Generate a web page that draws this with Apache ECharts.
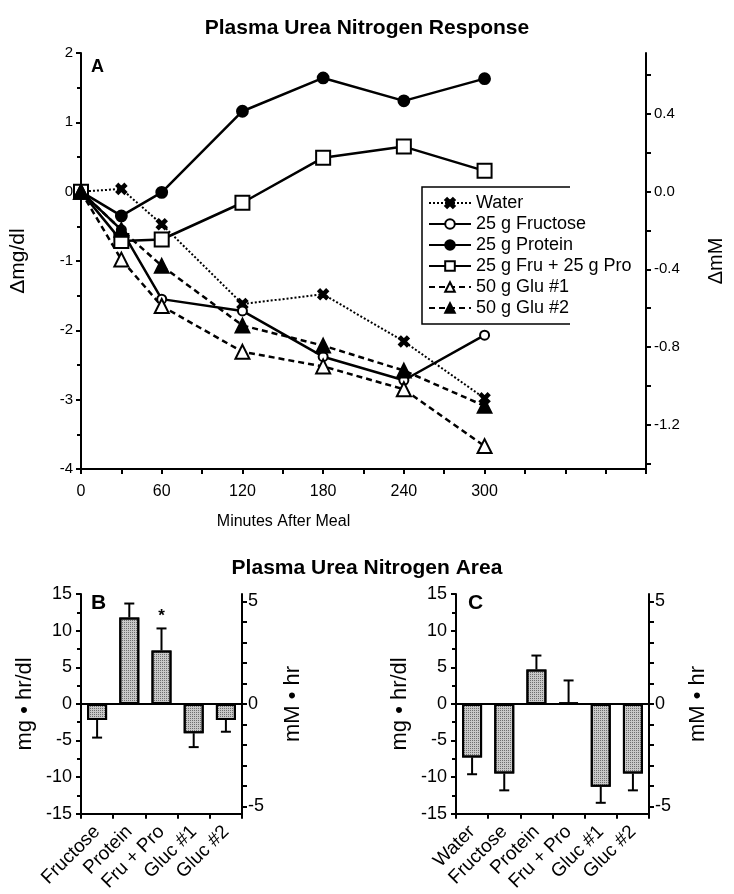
<!DOCTYPE html>
<html>
<head>
<meta charset="utf-8">
<script src="https://cdn.jsdelivr.net/npm/echarts@6/dist/echarts.min.js"></script>
<style>
  html, body { margin: 0; padding: 0; background: #fff; }
  #chart { width: 734px; height: 894px; }
</style>
</head>
<body>
<div id="chart"></div>
<script>
// mg/dl of urea nitrogen -> mM
var MM = 0.357;

// panel A: change in plasma urea nitrogen (mg/dl) vs minutes after meal
var minutes = [0, 30, 60, 120, 180, 240, 300];
var water = [0, 0.04, -0.47, -1.62, -1.48, -2.16, -2.98];
var fructose = [0, -0.55, -1.55, -1.72, -2.38, -2.72, -2.07];
var protein = [0, -0.35, -0.01, 1.16, 1.64, 1.31, 1.63];
var fruPro = [0, -0.71, -0.69, -0.16, 0.49, 0.65, 0.30];
var glu1 = [0, -0.98, -1.65, -2.31, -2.52, -2.85, -3.67];
var glu2 = [0, -0.55, -1.07, -1.93, -2.22, -2.58, -3.09];

// panel B
var catsB = ['Fructose', 'Protein', 'Fru + Pro', 'Gluc #1', 'Gluc #2'];
var areaB = [-2.2, 11.8, 7.3, -4.0, -2.2];
var errB = [-4.6, 13.7, 10.3, -5.9, -3.8];
var noteB = ['', '', '*', '', ''];

// panel C
var catsC = ['Water', 'Fructose', 'Protein', 'Fru + Pro', 'Gluc #1', 'Gluc #2'];
var areaC = [-7.3, -9.5, 4.7, 0.15, -11.3, -9.5];
var errC = [-9.6, -11.8, 6.6, 3.2, -13.5, -11.8];

var FONT = 'Liberation Sans';

function pairs(ys) {
  return ys.map(function (y, i) { return [minutes[i], y]; });
}
function rangeVals(from, to, step) {
  var out = [];
  for (var v = from; v <= to + 1e-9; v += step) out.push(Math.round(v * 10) / 10);
  return out;
}

var xMark = 'path://M2,0 L5,3 L8,0 L10,2 L7,5 L10,8 L8,10 L5,7 L2,10 L0,8 L3,5 L0,2 Z';

function lineSeries(name, ys, symbol, size, type) {
  return {
    name: name,
    type: 'line',
    xAxisIndex: 0,
    yAxisIndex: 0,
    data: pairs(ys),
    symbol: symbol,
    symbolSize: size,
    showAllSymbol: true,
    lineStyle: { color: '#000', width: type == 'dotted' ? 2 : 2.5, type: type },
    itemStyle: { color: '#000', borderColor: '#000', borderWidth: 1.8 },
    animation: false
  };
}

function errSeries(xi, yi, vals, ends, notes) {
  return {
    type: 'custom',
    xAxisIndex: xi,
    yAxisIndex: yi,
    data: vals.map(function (v, i) { return [i, v, ends[i]]; }),
    renderItem: function (params, api) {
      var i = api.value(0);
      var p0 = api.coord([i, api.value(1)]);
      var p1 = api.coord([i, api.value(2)]);
      var kids = [
        { type: 'line', shape: { x1: p0[0], y1: p0[1], x2: p1[0], y2: p1[1] }, style: { stroke: '#000', lineWidth: 2 } },
        { type: 'line', shape: { x1: p1[0] - 5, y1: p1[1], x2: p1[0] + 5, y2: p1[1] }, style: { stroke: '#000', lineWidth: 2 } }
      ];
      if (notes && notes[i]) {
        kids.push({ type: 'text', x: p1[0], y: p1[1] - 4, style: { text: notes[i], fill: '#000', font: 'bold 17px ' + FONT, align: 'center', verticalAlign: 'bottom' } });
      }
      return { type: 'group', children: kids };
    },
    z: 3,
    animation: false
  };
}

function barSeries(xi, yi, vals) {
  return {
    type: 'bar',
    xAxisIndex: xi,
    yAxisIndex: yi,
    data: vals,
    barWidth: 20,
    itemStyle: {
      color: '#c8c8c8',
      borderColor: '#000',
      borderWidth: 2,
      decal: { symbol: 'rect', symbolSize: 1, color: 'rgba(0,0,0,0.45)', dashArrayX: [1, 1], dashArrayY: [1, 1], rotation: 0 }
    },
    markLine: {
      silent: true,
      symbol: 'none',
      label: { show: false },
      lineStyle: { color: '#000', width: 2, type: 'solid' },
      data: [{ yAxis: 0 }]
    },
    animation: false
  };
}

var axisLine = { show: true, onZero: false, lineStyle: { color: '#000', width: 2 } };

function catAxis(gi, cats) {
  return {
    type: 'category',
    gridIndex: gi,
    data: cats,
    axisLine: axisLine,
    axisTick: { show: true, alignWithLabel: false, length: 5, lineStyle: { color: '#000', width: 2 } },
    axisLabel: { rotate: 45, color: '#000', fontFamily: FONT, fontSize: 19, margin: 15, interval: 0 },
    splitLine: { show: false }
  };
}

function leftBarAxis(gi) {
  return {
    type: 'value',
    gridIndex: gi,
    min: -15, max: 15, interval: 5,
    name: 'mg \u2022 hr/dl', nameLocation: 'middle', nameGap: 45,
    nameTextStyle: { color: '#000', fontFamily: FONT, fontSize: 22 },
    axisLine: axisLine,
    axisTick: { show: true, length: 5, lineStyle: { color: '#000', width: 2 } },
    minorTick: { show: true, splitNumber: 2, length: 4, lineStyle: { color: '#000', width: 2 } },
    axisLabel: { color: '#000', fontFamily: FONT, fontSize: 18, margin: 9 },
    splitLine: { show: false }
  };
}

function rightBarAxis(gi, gap) {
  return {
    type: 'value',
    gridIndex: gi,
    position: 'right',
    min: -15 * MM, max: 15 * MM,
    name: 'mM \u2022 hr', nameLocation: 'middle', nameGap: gap, nameRotate: 90,
    nameTextStyle: { color: '#000', fontFamily: FONT, fontSize: 22 },
    axisLine: axisLine,
    axisTick: { show: true, length: 5, customValues: rangeVals(-5, 5, 1), lineStyle: { color: '#000', width: 2 } },
    axisLabel: { color: '#000', fontFamily: FONT, fontSize: 18, margin: 6, customValues: [-5, 0, 5] },
    splitLine: { show: false }
  };
}

var chart = echarts.init(document.getElementById('chart'), null, { renderer: 'canvas' });

chart.setOption({
  backgroundColor: '#fff',
  animation: false,
  title: [
    { text: 'Plasma Urea Nitrogen Response', left: 'center', top: 13, textStyle: { fontFamily: FONT, fontSize: 21, fontWeight: 'bold', color: '#000' } },
    { text: 'A', left: 86, top: 53, textStyle: { fontFamily: FONT, fontSize: 18, fontWeight: 'bold', color: '#000' } },
    { text: 'Plasma Urea Nitrogen Area', left: 'center', top: 553, textStyle: { fontFamily: FONT, fontSize: 21, fontWeight: 'bold', color: '#000' } },
    { text: 'B', left: 86, top: 588, textStyle: { fontFamily: FONT, fontSize: 21, fontWeight: 'bold', color: '#000' } },
    { text: 'C', left: 463, top: 588, textStyle: { fontFamily: FONT, fontSize: 21, fontWeight: 'bold', color: '#000' } }
  ],
  legend: {
    orient: 'vertical',
    left: 424,
    top: 192,
    itemWidth: 42,
    itemHeight: 12,
    itemGap: 3,
    padding: [2, 4],
    textStyle: { fontFamily: FONT, fontSize: 18, lineHeight: 18, color: '#000' },
    data: ['Water', '25 g Fructose', '25 g Protein', '25 g Fru + 25 g Pro', '50 g Glu #1', '50 g Glu #2']
  },
  graphic: [
    { type: 'polyline', shape: { points: [[570, 187], [422, 187], [422, 324], [570, 324]] }, style: { stroke: '#000', lineWidth: 1.5, fill: null } }
  ],
  grid: [
    { left: 79, right: 86, top: 53, bottom: 425 },
    { left: 81, right: 492, top: 594, bottom: 77 },
    { left: 456, right: 85, top: 594, bottom: 77 }
  ],
  xAxis: [
    {
      type: 'value',
      gridIndex: 0,
      min: 0, max: 420, interval: 30,
      name: 'Minutes After Meal', nameLocation: 'middle', nameGap: 45,
      nameTextStyle: { color: '#000', fontFamily: FONT, fontSize: 16, padding: [0, 160, 0, 0] },
      axisLine: axisLine,
      axisTick: { show: true, length: 5, lineStyle: { color: '#000', width: 2 } },
      axisLabel: {
        color: '#000', fontFamily: FONT, fontSize: 16, margin: 15,
        formatter: function (v) { return (v % 60 == 0 && v <= 300) ? String(v) : ''; }
      },
      splitLine: { show: false }
    },
    catAxis(1, catsB),
    catAxis(2, catsC)
  ],
  yAxis: [
    {
      type: 'value',
      gridIndex: 0,
      min: -4, max: 2, interval: 1,
      name: '\u0394mg/dl', nameLocation: 'middle', nameGap: 52,
      nameTextStyle: { color: '#000', fontFamily: FONT, fontSize: 21 },
      axisLine: axisLine,
      axisTick: { show: true, length: 5, lineStyle: { color: '#000', width: 2 } },
      minorTick: { show: true, splitNumber: 2, length: 4, lineStyle: { color: '#000', width: 2 } },
      axisLabel: { color: '#000', fontFamily: FONT, fontSize: 15, margin: 8 },
      splitLine: { show: false }
    },
    {
      type: 'value',
      gridIndex: 0,
      position: 'right',
      min: -4 * MM, max: 2 * MM,
      name: '\u0394mM', nameLocation: 'middle', nameGap: 60, nameRotate: 90,
      nameTextStyle: { color: '#000', fontFamily: FONT, fontSize: 20 },
      axisLine: axisLine,
      axisTick: { show: true, length: 5, customValues: rangeVals(-1.4, 0.6, 0.2), lineStyle: { color: '#000', width: 2 } },
      axisLabel: {
        color: '#000', fontFamily: FONT, fontSize: 15, margin: 8,
        customValues: [-1.2, -0.8, -0.4, 0, 0.4],
        formatter: function (v) { return v.toFixed(1); }
      },
      splitLine: { show: false }
    },
    leftBarAxis(1),
    rightBarAxis(1, 40),
    leftBarAxis(2),
    rightBarAxis(2, 38)
  ],
  series: [
    lineSeries('Water', water, xMark, 10, 'dotted'),
    lineSeries('25 g Fructose', fructose, 'emptyCircle', 9, 'solid'),
    lineSeries('25 g Protein', protein, 'circle', 11, 'solid'),
    lineSeries('25 g Fru + 25 g Pro', fruPro, 'emptyRect', 14, 'solid'),
    lineSeries('50 g Glu #1', glu1, 'emptyTriangle', 14, [6, 4]),
    lineSeries('50 g Glu #2', glu2, 'triangle', 14, [6, 4]),
    barSeries(1, 2, areaB),
    errSeries(1, 2, areaB, errB, noteB),
    barSeries(2, 4, areaC),
    errSeries(2, 4, areaC, errC, null)
  ]
});
</script>
</body>
</html>
